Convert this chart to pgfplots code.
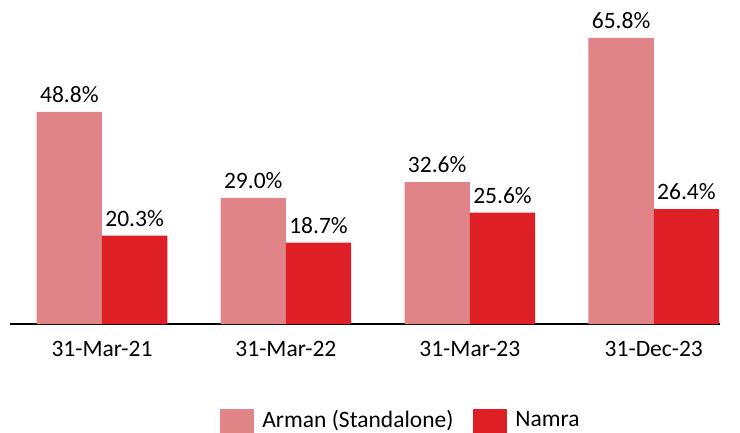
\documentclass[border=0pt]{standalone}
\usepackage{pgfplots}
\pgfplotsset{compat=1.18}
\usepackage{fontspec}
\setmainfont{Carlito}
\definecolor{arman}{RGB}{224,132,135}
\definecolor{namra}{RGB}{222,31,38}
\begin{document}
\begin{tikzpicture}
\fontsize{23.5bp}{27bp}\selectfont
\begin{axis}[
  at={(0,0)}, anchor=south west,
  scale only axis,
  width=710bp, height=324bp,
  xmin=-0.5, xmax=3.36,
  ymin=0, ymax=74.5,
  ybar=0pt,
  bar width=0.355,
  axis x line*=bottom,
  axis y line=none,
  x axis line style={line width=1.5bp, -},
  xtick={0,1,2,3},
  xticklabels={31-Mar-21,31-Mar-22,31-Mar-23,31-Dec-23},
  major tick length=0pt,
  /pgf/number format/assume math mode=true,
  xticklabel style={font=\fontsize{23.5bp}{27bp}\selectfont, yshift=-9bp},
  nodes near coords={\pgfmathprintnumber[fixed,fixed zerofill,precision=1,assume math mode=true]{\pgfplotspointmeta}\%},
  every node near coord/.append style={font=\fontsize{23.5bp}{27bp}\selectfont, black, yshift=1bp},
  legend style={draw=none, at={(391bp,-97bp)}, anchor=center, legend columns=2,
    font=\fontsize{23.5bp}{27bp}\selectfont,
    /tikz/every odd column/.append style={column sep=6bp},
    /tikz/every even column/.append style={column sep=18bp}},
  legend image code/.code={\fill[#1] (0bp,-12.5bp) rectangle (34bp,12.5bp);},
  clip=false,
]
\addplot[fill=arman, draw=none] coordinates {(0,48.8) (1,29.0) (2,32.6) (3,65.8)};
\addplot[fill=namra, draw=none] coordinates {(0,20.3) (1,18.7) (2,25.6) (3,26.4)};
\legend{Arman (Standalone),Namra}
\end{axis}
\pgfresetboundingbox
\useasboundingbox (-10bp,-109bp) rectangle (730bp,324bp);
\end{tikzpicture}
\end{document}
